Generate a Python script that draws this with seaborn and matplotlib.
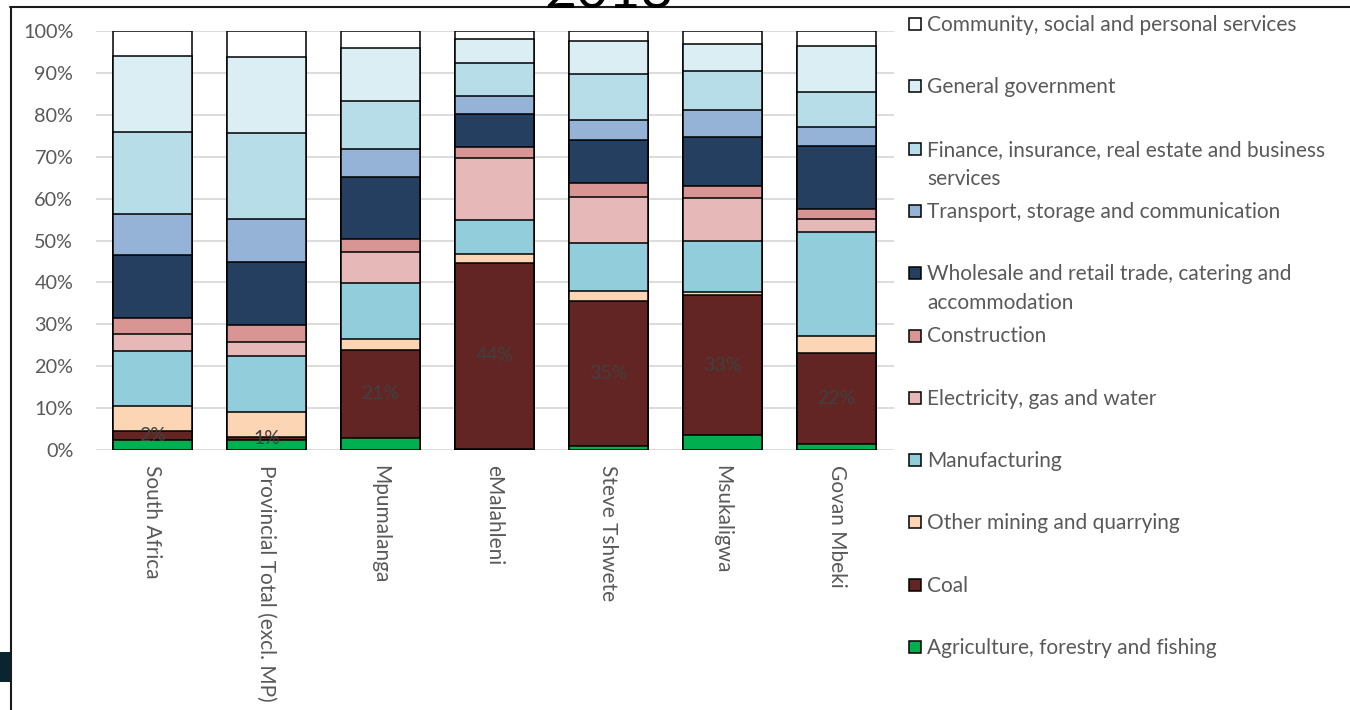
import matplotlib
matplotlib.use("Agg")
import matplotlib.pyplot as plt
import seaborn as sns
import numpy as np
import pandas as pd
from matplotlib.patches import Rectangle
from matplotlib.lines import Line2D
from matplotlib.ticker import FuncFormatter

sns.set_theme(style="white")
plt.rcParams["font.family"] = ["Lato", "DejaVu Sans"]

categories = ["South Africa", "Provincial Total (excl. MP)", "Mpumalanga", "eMalahleni",
              "Steve Tshwete", "Msukaligwa", "Govan Mbeki"]

# sector shares (%), bottom of stack to top
agriculture = [2.4, 2.4, 2.9, 0.3, 1.0, 3.6, 1.4]
coal = [2.2, 0.8, 21.0, 44.4, 34.6, 33.3, 21.7]
other_mining = [5.9, 5.9, 2.6, 2.0, 2.3, 0.8, 4.1]
manufacturing = [13.2, 13.3, 13.3, 8.2, 11.6, 12.3, 24.8]
electricity = [3.9, 3.3, 7.5, 14.7, 11.0, 10.1, 3.1]
construction = [3.8, 4.1, 3.0, 2.6, 3.2, 2.9, 2.5]
wholesale = [15.1, 15.1, 14.8, 7.9, 10.3, 11.6, 14.9]
transport = [9.9, 10.2, 6.7, 4.5, 4.7, 6.5, 4.7]
finance = [19.5, 20.5, 11.6, 7.8, 11.1, 9.3, 8.2]
general_gov = [18.2, 18.3, 12.6, 5.6, 7.8, 6.6, 11.0]
community = [5.9, 6.1, 4.0, 2.0, 2.4, 3.0, 3.6]

series_names = ["Agriculture, forestry and fishing", "Coal", "Other mining and quarrying",
                "Manufacturing", "Electricity, gas and water", "Construction",
                "Wholesale and retail trade, catering and\naccommodation",
                "Transport, storage and communication",
                "Finance, insurance, real estate and business\nservices",
                "General government", "Community, social and personal services"]
series_values = [agriculture, coal, other_mining, manufacturing, electricity, construction,
                 wholesale, transport, finance, general_gov, community]
series_colors = ["#00B050", "#632523", "#FCD5B5", "#92CDDC", "#E6B9B8", "#D99594",
                 "#243F60", "#95B3D7", "#B7DEE8", "#DAEEF3", "#FFFFFF"]

W, H = 1350, 710
fig = plt.figure(figsize=(13.5, 7.1), dpi=100)
ax = fig.add_axes([95.5 / W, 1 - 450 / H, 798 / W, 419 / H])

vals = np.array(series_values)
cum = np.cumsum(vals, axis=0)

for i in reversed(range(len(series_names))):
    df = pd.DataFrame({"cat": categories, "v": cum[i]})
    sns.barplot(data=df, x="cat", y="v", color=series_colors[i], saturation=1,
                edgecolor="black", linewidth=1.1, width=0.69, errorbar=None, ax=ax, zorder=3)

# data labels on coal
for j, c in enumerate(categories):
    yc = cum[0][j] + coal[j] / 2
    ax.text(j, yc, f"{coal[j]:.0f}%", ha="center", va="center", fontsize=14,
            color="#404040", zorder=5)

ax.set_ylim(0, 100)
ax.set_xlim(-0.5, 6.5)
ax.set_yticks(np.arange(0, 101, 10))
ax.yaxis.set_major_formatter(FuncFormatter(lambda v, p: f"{v:.0f}%"))
ax.grid(axis="y", color="#D9D9D9", linewidth=1.3, zorder=0)
ax.set_axisbelow(True)
for s in ax.spines.values():
    s.set_visible(False)
ax.set_xlabel("")
ax.set_ylabel("")
ax.tick_params(axis="y", length=0, pad=16, labelsize=14.3, labelcolor="#595959")
ax.tick_params(axis="x", length=0, pad=11, labelsize=15, labelcolor="#595959")
for lab in ax.get_xticklabels():
    lab.set_rotation(270)
    lab.set_va("top")
    lab.set_ha("center")

# legend (reverse order, top series first)
def fx(x):
    return x / W

def fy(y):
    return 1 - y / H

for k, idx in enumerate(reversed(range(len(series_names)))):
    yc = 24 + k * 62.3
    fig.add_artist(Rectangle((fx(909), fy(yc + 6)), 12 / W, 12 / H, transform=fig.transFigure,
                             facecolor=series_colors[idx], edgecolor="black", linewidth=1.1))
    fig.text(fx(927), fy(yc - 9), series_names[idx], ha="left", va="top", fontsize=15,
             color="#595959", linespacing=1.58)

# screenshot frame and cropped title
fig.add_artist(Line2D([fx(10), 1], [fy(7), fy(7)], transform=fig.transFigure, color="#1a1a1a", lw=1.5))
fig.add_artist(Line2D([fx(10.5), fx(10.5)], [fy(7), 0], transform=fig.transFigure, color="#1a1a1a", lw=1.5))
fig.add_artist(Rectangle((0, fy(682)), 10 / W, 30 / H, transform=fig.transFigure,
                         facecolor="#0B2530", edgecolor="none"))
fig.text(fx(609), fy(8.5), "2018", ha="center", va="baseline", fontsize=40, color="black")

fig.savefig("out.png", dpi=100)
